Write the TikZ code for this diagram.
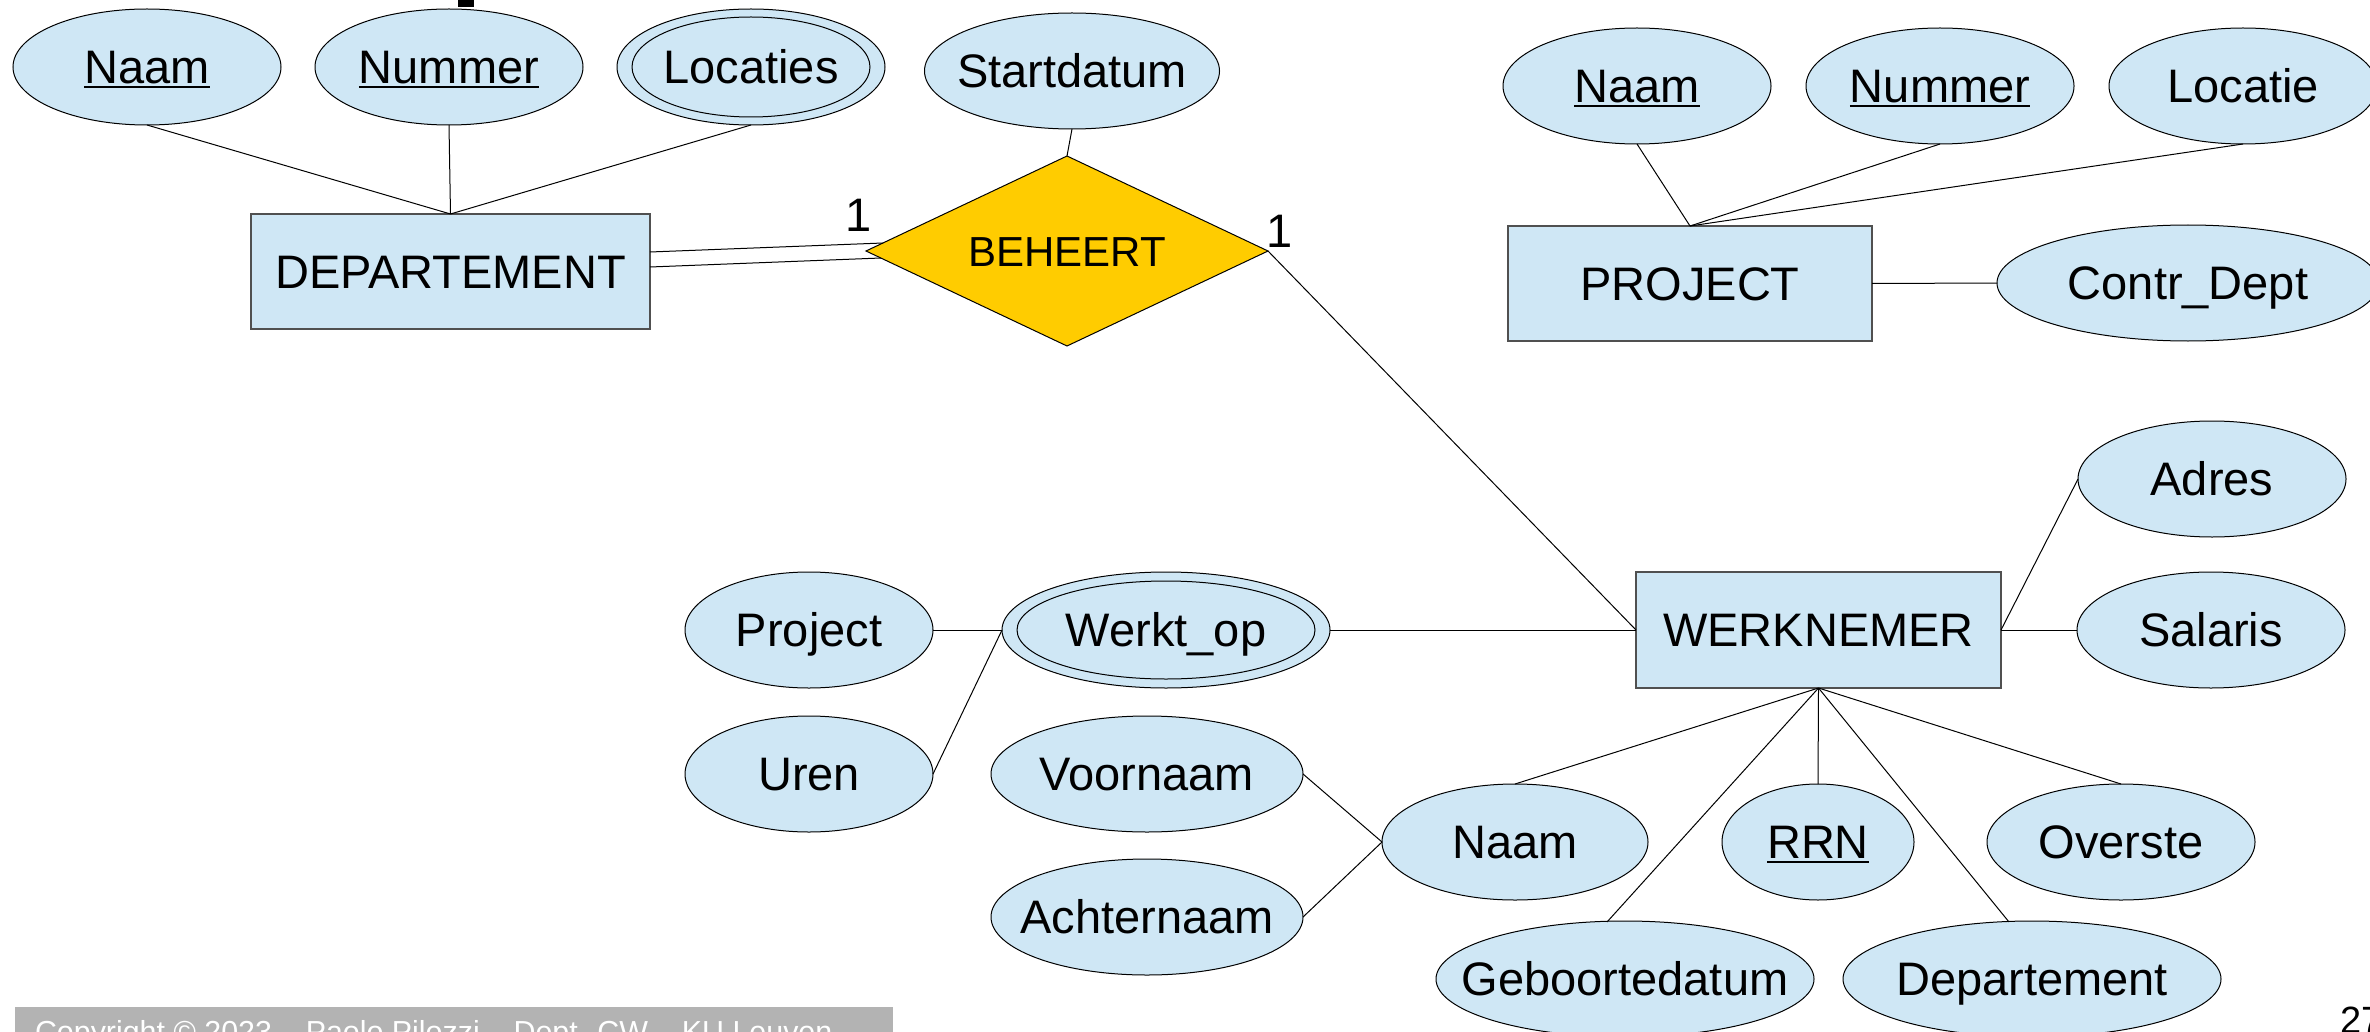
\documentclass[tikz,border=0pt]{standalone}
\usepackage{fontspec}
\setmainfont{Liberation Sans}
\usetikzlibrary{shapes.geometric,calc}

\definecolor{attrfill}{RGB}{207,231,245}
\definecolor{relfill}{RGB}{255,204,0}
\definecolor{entline}{RGB}{80,80,80}
\definecolor{barfill}{RGB}{179,179,179}

% zero-width text, so that an ellipse keeps the size it is given
\newcommand\zw[1]{\makebox[0pt]{#1}}
% underlined key attribute
\newcommand\keyattr[1]{\setbox0\hbox{#1}\rlap{\rule[-2.2pt]{\wd0}{1.1pt}}\box0}

\begin{document}
\begin{tikzpicture}[x=0.5pt,y=-0.5pt,
  every node/.style={font=\fontsize{23.5}{28}\selectfont, inner sep=0pt, outer sep=0pt},
  attr/.style={ellipse, draw=black, line width=0.5pt, fill=attrfill,
    minimum height=58pt, text height=16.8pt, text depth=0pt},
  ent/.style={rectangle, draw=entline, line width=1pt, fill=attrfill,
    text height=16.8pt, text depth=0pt},
  rel/.style={diamond, draw=black, line width=0.5pt, fill=relfill,
    minimum width=201pt, minimum height=95pt,
    font=\fontsize{21}{25}\selectfont, text height=15pt, text depth=0pt},
  link/.style={line width=0.5pt, draw=black},
  inner/.style={line width=0.5pt, draw=black},
]
\fill[white] (0,0) rectangle (2370,1032);
\useasboundingbox (0,0) rectangle (2370,1032);
\clip (0,0) rectangle (2370,1032);

% fragment of the heading above
\fill[black] (458,0) rectangle (474,7);

% ---- DEPARTEMENT and BEHEERT ----
\node[attr, minimum width=134pt] (dnaam) at (147,67) {\zw{\keyattr{Naam}}};
\node[attr, minimum width=134pt] (dnum) at (449,67) {\zw{\keyattr{Nummer}}};
\node[attr, minimum width=134pt] (dloc) at (751,67) {\zw{Locaties}};
\draw[inner] (dloc.center) ellipse [x radius=59.5pt, y radius=25pt];
\node[attr, minimum width=147.5pt] (start) at (1072,71) {\zw{Startdatum}};
\node[ent, minimum width=199.5pt, minimum height=57.5pt] (dept) at (450.5,271.5) {DEPARTEMENT};
\node[rel] (beh) at (1067,251) {\zw{BEHEERT}};
\node (one1) at (859,215) {1};
\node (one2) at (1280,231) {1};

% ---- PROJECT ----
\node[attr, minimum width=134pt] (pnaam) at (1637,86) {\zw{\keyattr{Naam}}};
\node[attr, minimum width=134pt] (pnum) at (1940,86) {\zw{\keyattr{Nummer}}};
\node[attr, minimum width=134pt] (ploc) at (2243,86) {\zw{Locatie}};
\node[ent, minimum width=182pt, minimum height=57.5pt] (proj) at (1690,283.5) {PROJECT};
\node[attr, minimum width=191pt] (pdept) at (2188,283) {\zw{Contr\_Dept}};

% ---- WERKNEMER ----
\node[ent, minimum width=182.5pt, minimum height=58pt] (werk) at (1818.5,630) {WERKNEMER};
\node[attr, minimum width=134pt] (adres) at (2212,479) {\zw{Adres}};
\node[attr, minimum width=134pt] (sal) at (2211,630) {\zw{Salaris}};
\node[attr, minimum width=164pt] (wop) at (1166,630) {\zw{Werkt\_op}};
\draw[inner] (wop.center) ellipse [x radius=74.5pt, y radius=24.5pt];
\node[attr, minimum width=124pt] (wproj) at (809,630) {\zw{Project}};
\node[attr, minimum width=124pt] (uren) at (809,774) {\zw{Uren}};
\node[attr, minimum width=156pt] (voor) at (1147,774) {\zw{Voornaam}};
\node[attr, minimum width=156pt] (achter) at (1147,917) {\zw{Achternaam}};
\node[attr, minimum width=133pt] (wnaam) at (1515,842) {\zw{Naam}};
\node[attr, minimum width=96pt] (rrn) at (1818,842) {\zw{\keyattr{RRN}}};
\node[attr, minimum width=134pt] (over) at (2121,842) {\zw{Overste}};
\node[attr, minimum width=189pt] (geb) at (1625,979) {\zw{Geboortedatum}};
\node[attr, minimum width=189pt] (wdep) at (2032,979) {\zw{Departement}};

% ---- connectors ----
\draw[link] (dnaam.south) -- (dept.north);
\draw[link] (dnum.south) -- (dept.north);
\draw[link] (dloc.south) -- (dept.north);
\draw[link] (start.south) -- (beh.north);
\draw[link] ($(dept.east)+(0,-19.5)$) -- ($(beh.west)+(17,-8)$);
\draw[link] ($(dept.east)+(0,-4.5)$) -- ($(beh.west)+(15,7)$);
\draw[link] (beh.east) -- (werk.west);

\draw[link] (pnaam.south) -- (proj.north);
\draw[link] (pnum.south) -- (proj.north);
\draw[link] (ploc.south) -- (proj.north);
\draw[link] (proj.east) -- (pdept.west);

\draw[link] (werk.east) -- (adres.west);
\draw[link] (werk.east) -- (sal.west);
\draw[link] (wop.east) -- (werk.west);
\draw[link] (wproj.east) -- (wop.west);
\draw[link] (uren.east) -- (wop.west);
\draw[link] (voor.east) -- (wnaam.west);
\draw[link] (achter.east) -- (wnaam.west);
\draw[link] (werk.south) -- (wnaam.north);
\draw[link] (werk.south) -- (rrn.north);
\draw[link] (werk.south) -- (over.north);
\draw[link] (werk.south) -- ($(geb.north)+(-18,1)$);
\draw[link] (werk.south) -- ($(wdep.north)+(-23,1)$);

% ---- footer ----
\node[fill=barfill, anchor=north west, minimum width=439pt, minimum height=12.5pt] (bar) at (15,1007) {};
\node[text=white, font=\fontsize{15.2}{18}\selectfont, anchor=base west] (copy) at (35,1042)
  {Copyright © 2023 – Paolo Pilozzi – Dept. CW – KU Leuven};
\node[font=\fontsize{19}{22}\selectfont, anchor=base west] (pg) at (2340,1033) {27};
\end{tikzpicture}
\end{document}
